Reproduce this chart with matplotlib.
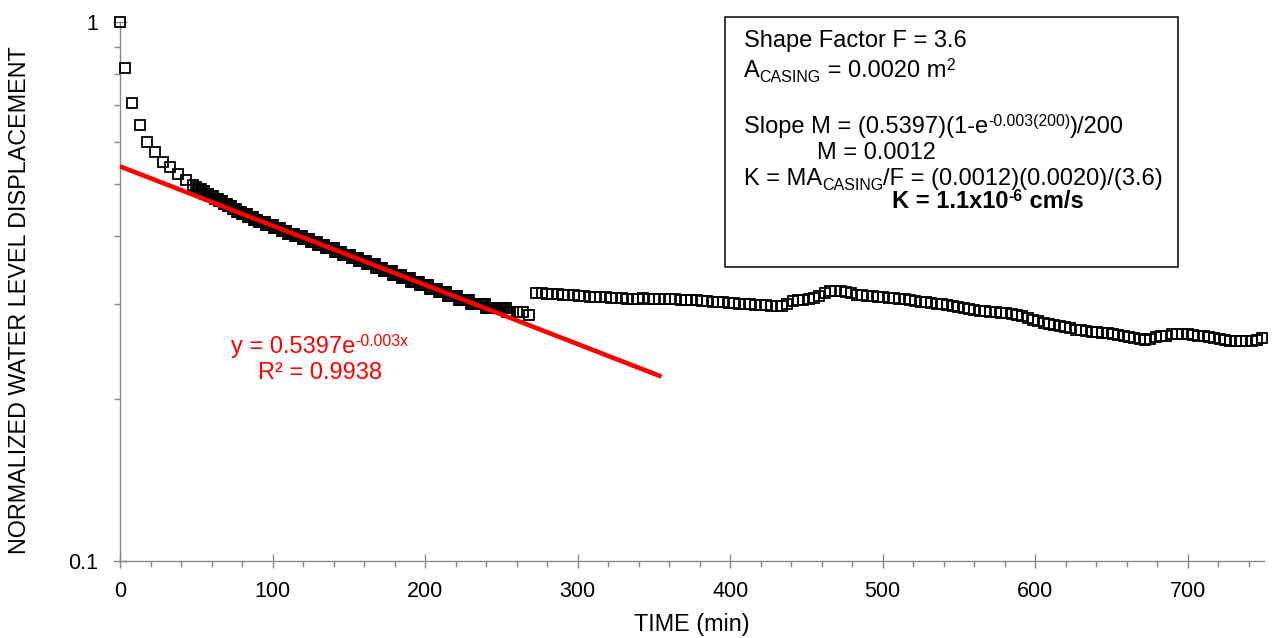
import matplotlib
matplotlib.use('Agg')
import matplotlib.pyplot as plt
from matplotlib.patches import Rectangle
from matplotlib.transforms import IdentityTransform
import numpy as np

plt.rcParams['font.family'] = ['Liberation Sans', 'DejaVu Sans']

# early readings (every ~5 min)
early_t = [0, 3, 8, 13, 18, 23, 28, 33, 38, 43, 48]
early_y = [1.000, 0.822, 0.709, 0.643, 0.599, 0.573, 0.549, 0.538, 0.523, 0.509, 0.498]

# dense readings, 1 min apart, 50 to 256 min
dense_t = np.arange(50, 257)
dense_y = [
    .495, .490, .490, .490, .485, .485, .480, .480, .480, .475,
    .475, .475, .470, .470, .470, .465, .465, .465, .460, .460,
    .460, .455, .455, .455, .450, .450, .450, .445, .445, .445,
    .440, .440, .440, .440, .435, .435, .435, .435, .430, .430,
    .430, .425, .425, .425, .425, .425, .420, .420, .420, .420,
    .420, .415, .415, .415, .415, .415, .410, .410, .410, .410,
    .405, .405, .405, .405, .405, .400, .400, .400, .400, .400,
    .395, .395, .395, .395, .395, .390, .390, .390, .390, .390,
    .385, .385, .385, .385, .385, .380, .380, .380, .380, .380,
    .380, .375, .375, .375, .375, .375, .370, .370, .370, .370,
    .370, .370, .365, .365, .365, .365, .365, .360, .360, .360,
    .360, .360, .355, .355, .355, .355, .355, .355, .350, .350,
    .350, .350, .350, .345, .345, .345, .345, .345, .345, .340,
    .340, .340, .340, .340, .340, .335, .335, .335, .335, .335,
    .335, .330, .330, .330, .330, .330, .330, .325, .325, .325,
    .325, .325, .325, .320, .320, .320, .320, .320, .320, .315,
    .315, .315, .315, .315, .315, .310, .310, .310, .310, .310,
    .310, .310, .305, .305, .305, .305, .305, .305, .305, .305,
    .300, .300, .300, .300, .300, .300, .300, .300, .300, .300,
    .295, .295, .295, .295, .295, .295, .295, .295, .295, .295,
    .295, .295, .295, .295, .290, .290, .290,
]

tail_t = [260, 264, 268]
tail_y = [0.290, 0.290, 0.286]

# later readings, 3.5 min apart
late_t = np.arange(273, 750, 3.5)
late_y = [
    .3145, .3140, .3135, .3130, .3125, .3120, .3118, .3112, .3105, .3100,
    .3095, .3090, .3086, .3083, .3080, .3076, .3072, .3068, .3065, .3068,
    .3070, .3068, .3065, .3066, .3065, .3060, .3058, .3055, .3052, .3048,
    .3044, .3042, .3038, .3030, .3025, .3018, .3012, .3008, .3003, .2998,
    .2992, .2988, .2983, .2979, .2976, .2975, .2978, .2995, .3034, .3045,
    .3055, .3065, .3080, .3100, .3140, .3166, .3170, .3166, .3160, .3140,
    .3118, .3112, .3105, .3098, .3090, .3086, .3080, .3072, .3065, .3058,
    .3048, .3040, .3030, .3018, .3010, .3003, .2995, .2987, .2978, .2965,
    .2952, .2940, .2928, .2915, .2908, .2900, .2895, .2888, .2880, .2874,
    .2862, .2845, .2825, .2805, .2785, .2762, .2750, .2738, .2725, .2712,
    .2700, .2688, .2677, .2670, .2665, .2658, .2652, .2645, .2639, .2630,
    .2618, .2605, .2592, .2582, .2575, .2585, .2600, .2615, .2620, .2632,
    .2640, .2638, .2632, .2622, .2618, .2612, .2605, .2598, .2585, .2572,
    .2564, .2560, .2562, .2565, .2562, .2575, .2594,
]

# exponential trendline as drawn
fit_a = 0.5397
fit_b = -0.00253
fit_t = np.array([0, 355])

t = np.concatenate([early_t, dense_t, tail_t, late_t])
y = np.concatenate([early_y, dense_y, tail_y, late_y])

W, H = 1283, 638
fig = plt.figure(figsize=(W / 100, H / 100), dpi=100)
ax = fig.add_axes([120 / W, 1 - 561 / H, (1264 - 120) / W, (561 - 22) / H])

ax.plot(t, y, 's', ms=7.2, mfc='none', mec='black', mew=1.3, clip_on=False, zorder=3)
ax.plot(fit_t, fit_a * np.exp(fit_b * fit_t), color='#ff0000', lw=3.3, zorder=4,
        solid_capstyle='butt')

ax.set_yscale('log')
ax.set_xlim(0, 750)
ax.set_ylim(0.1, 1)
ax.set_xticks(np.arange(0, 701, 100))
ax.set_xticks(np.arange(0, 751, 20), minor=True)
ax.set_yticks([0.1, 1], ['0.1', '1'])
ax.set_yticks([0.2, 0.3, 0.4, 0.5, 0.6, 0.7, 0.8, 0.9], minor=True)
ax.yaxis.set_minor_formatter(matplotlib.ticker.NullFormatter())

grey = '#898989'
for s in ['top', 'right']:
    ax.spines[s].set_visible(False)
for s in ['left', 'bottom']:
    ax.spines[s].set_color(grey)
    ax.spines[s].set_linewidth(1.0)
ax.tick_params(which='major', direction='inout', length=10, width=1.0, color=grey,
               labelsize=15.5)
ax.tick_params(which='minor', direction='out', length=4, width=1.0, color=grey)
ax.tick_params(axis='x', which='major', pad=9.5)
ax.tick_params(axis='y', which='major', pad=11)

ax.set_xlabel('TIME (min)', fontsize=16.8)
ax.xaxis.set_label_coords(0.5, -0.096)
ax.set_ylabel('NORMALIZED WATER LEVEL DISPLACEMENT', fontsize=16.8)
ax.yaxis.set_label_coords(-0.078, 0.484)

renderer = fig.canvas.get_renderer()


def rich(x, yb, parts, size=17, color='black', weight='normal', center=False):
    # draw text pieces one after another; yb is the baseline in pixels from the top
    px = size * 100 / 72
    arts = []
    cx = x
    for txt, kind in parts:
        fs, dy = size, 0
        if kind == 'sup':
            fs, dy = size * 0.67, 0.31 * px
        elif kind == 'sub':
            fs, dy = size * 0.68, -0.22 * px
        a = fig.text(cx, H - yb + dy, txt, fontsize=fs, color=color, fontweight=weight,
                     ha='left', va='baseline', transform=IdentityTransform())
        cx += a.get_window_extent(renderer).width
        arts.append(a)
    if center:
        shift = (cx - x) / 2
        for a in arts:
            px0, py0 = a.get_position()
            a.set_position((px0 - shift, py0))


# trendline equation
rich(320, 353, [('y = 0.5397e', 'n'), ('-0.003x', 'sup')], color='#ff0000', center=True)
rich(320, 379, [('R² = 0.9938', 'n')], color='#ff0000', center=True)

# calculation box
fig.add_artist(Rectangle((725 / W, 1 - 267 / H), (1178 - 725) / W, (267 - 17) / H,
                         transform=fig.transFigure, fill=False, ec='black', lw=1.1))
rich(744, 47, [('Shape Factor F = 3.6', 'n')])
rich(744, 77, [('A', 'n'), ('CASING', 'sub'), (' = 0.0020 m', 'n'), ('2', 'sup')])
rich(744, 133, [('Slope M = (0.5397)(1-e', 'n'), ('-0.003(200)', 'sup'), (')/200', 'n')])
rich(817, 159, [('M = 0.0012', 'n')])
rich(744, 185, [('K = MA', 'n'), ('CASING', 'sub'), ('/F = (0.0012)(0.0020)/(3.6)', 'n')])
rich(892, 208, [('K = 1.1x10', 'n'), ('-6', 'sup'), (' cm/s', 'n')], weight='bold')

fig.savefig('out.png', dpi=100)
